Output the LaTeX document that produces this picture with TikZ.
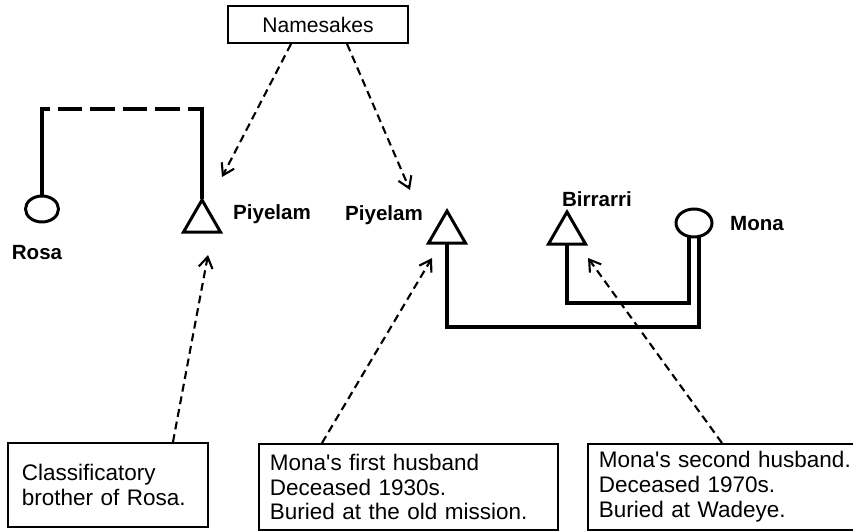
\documentclass[tikz,border=0pt]{standalone}
\usepackage{fontspec}
\setmainfont{Liberation Sans}
\usetikzlibrary{shapes.geometric,arrows.meta}
\newcommand{\who}[1]{{\fontsize{11.7}{13}\selectfont\bfseries #1}}

\begin{document}
\begin{tikzpicture}[x=0.02cm,y=-0.02cm,
  male/.style={draw,line width=1.7pt,regular polygon,regular polygon sides=3,minimum size=0.86cm,inner sep=0pt,anchor=north},
  female/.style={draw,line width=1.7pt,ellipse,minimum width=0.66cm,minimum height=0.52cm,inner sep=0pt},
  kin/.style={line width=1.9pt,line cap=rect},
  note/.style={draw,line width=1.1pt,anchor=north west,align=left,inner xsep=0.22cm,font=\fontsize{12.8}{14.2}\selectfont},
  pointer/.style={line width=1.2pt,dash pattern=on 4.5pt off 2.8pt,-{Straight Barb[length=2.2mm,width=2.8mm]}}]
\useasboundingbox (0,0) rectangle (853,531);

\node (names) at (318,24.5) [draw,line width=1.1pt,minimum width=3.6cm,minimum height=0.74cm,font=\fontsize{12}{14}\selectfont] {Namesakes};

\node (rosa) at (42,209) [female] {};
\node (piyA) at (202,197) [male] {};
\node (piyB) at (447,208) [male] {};
\node (birr) at (567,209) [male] {};
\node (mona) at (694,223) [female,minimum width=0.72cm,minimum height=0.56cm] {};

\node (rosaL) at (37,253) {\who{Rosa}};
\node (piyAL) at (272,214) {\who{Piyelam}};
\node (piyBL) at (384,215) {\who{Piyelam}};
\node (birrL) at (597,199) {\who{Birrarri}};
\node (monaL) at (757,224) {\who{Mona}};

\node (noteA) at (7,442) [note,inner xsep=0.28cm,text width=3.44cm,minimum height=1.68cm] {Classificatory\\brother of Rosa.};
\node (noteB) at (258,443) [note,text width=5.54cm,minimum height=1.72cm] {Mona\textquotesingle s first husband\\Deceased 1930s.\\Buried at the old mission.};
\node (noteC) at (587,443) [note,text width=5.6cm,minimum height=1.72cm] {Mona\textquotesingle s second husband.\\Deceased 1970s.\\Buried at Wadeye.};

% sibling link
\coordinate (sibL) at (42,109);
\coordinate (sibR) at (202,109);
\draw [kin] (rosa.north) -- (sibL);
\draw [kin,line cap=butt,dash pattern=on 14pt off 4.5pt,dash phase=9.5pt] (sibL) -- (sibR);
\draw [kin] (sibR) -- (piyA.north);

% marriages
\coordinate (wedA) at (699,327);
\coordinate (wedB) at (689,303);
\draw [kin] (piyB.south) |- (wedA) -- (wedA |- mona.south);
\draw [kin] (birr.south) |- (wedB) -- (wedB |- mona.south);

% pointers
\coordinate (tipN1) at (222,177);
\coordinate (tipN2) at (410,190);
\coordinate (tipA) at (208,255);
\coordinate (tipB) at (432,258);
\coordinate (tipC) at (588,258);
\draw [pointer] ([xshift=1.28cm]names.south west) -- (tipN1);
\draw [pointer] ([xshift=2.4cm]names.south west) -- (tipN2);
\draw [pointer] ([xshift=3.32cm]noteA.north west) -- (tipA);
\draw [pointer] ([xshift=1.28cm]noteB.north west) -- (tipB);
\draw [pointer] ([xshift=2.7cm]noteC.north west) -- (tipC);
\end{tikzpicture}
\end{document}
